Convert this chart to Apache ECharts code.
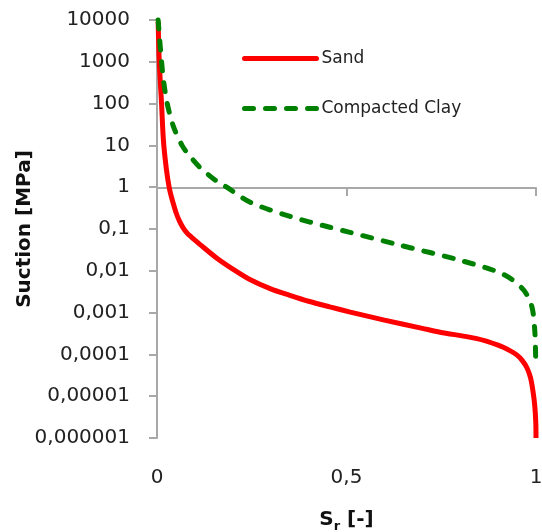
<!DOCTYPE html>
<html>
<head>
<meta charset="utf-8">
<script src="https://cdn.jsdelivr.net/npm/echarts@6/dist/echarts.min.js"></script>
<style>
  html, body { margin: 0; padding: 0; background: #fff; }
  #chart { width: 542px; height: 532px; }
</style>
</head>
<body>
<div id="chart"></div>
<script>
  // data (Sr [-], suction [MPa])
  const sandSr = [0.003, 0.006, 0.012, 0.018, 0.032, 0.05, 0.06, 0.069, 0.08, 0.09, 0.1, 0.113, 0.158, 0.2, 0.245, 0.3, 0.35, 0.4, 0.456, 0.51, 0.6, 0.7, 0.747, 0.844, 0.9, 0.931, 0.95, 0.963, 0.976, 0.9855, 0.992, 0.9968, 0.9995, 1.0]
  const sandSuction = [9000, 1000, 100, 10, 1, 0.25, 0.15, 0.107, 0.079, 0.065, 0.054, 0.043, 0.02, 0.011, 0.0062, 0.0037, 0.0026, 0.00187, 0.00137, 0.00103, 0.00066, 0.00042, 0.00034, 0.000238, 0.000166, 0.000123, 0.000096, 0.000073, 0.000048, 0.0000277, 0.0000132, 0.0000058, 0.00000226, 0.000001]
  const claySr = [0.003, 0.012, 0.018, 0.027, 0.043, 0.066, 0.087, 0.113, 0.157, 0.184, 0.245, 0.351, 0.456, 0.509, 0.632, 0.808, 0.913, 0.966, 0.989, 0.997, 0.999]
  const claySuction = [10000, 1000, 316, 100, 29, 10, 5.5, 3, 1.4, 1, 0.44, 0.2, 0.11, 0.083, 0.043, 0.017, 0.0083, 0.0036, 0.0014, 0.00034, 0.00009]
  const xTickLabels = ['0', '0,5', '1']
  const yTickLabels = ['0,000001', '0,00001', '0,0001', '0,001', '0,01', '0,1', '1', '10', '100', '1000', '10000']

  const font = 'DejaVu Sans'
  const axisGray = '#A8A8A8'

  const chart = echarts.init(document.getElementById('chart'))
  chart.setOption({
    animation: false,
    grid: { left: 157, right: 6, top: 20, bottom: 94, outerBoundsMode: 'none' },
    legend: {
      orient: 'vertical',
      left: 242,
      top: 50,
      padding: 0,
      itemWidth: 72,
      itemHeight: 14,
      itemGap: 33,
      itemStyle: { opacity: 0 },
      lineStyle: { width: 5, cap: 'round' },
      textStyle: { fontFamily: font, fontSize: 17, color: '#222' },
      data: ['Sand', 'Compacted Clay']
    },
    xAxis: [
      {
        // labels + title at the bottom
        type: 'value',
        position: 'bottom',
        min: 0,
        max: 1,
        interval: 0.5,
        axisLine: { show: false, onZero: false },
        axisTick: { show: false },
        splitLine: { show: false },
        axisLabel: {
          margin: 30,
          fontFamily: font,
          fontSize: 20,
          color: '#222',
          formatter: (v) => xTickLabels[Math.round(v * 2)]
        },
        name: '{a|S}{b|r}{a| [-]}',
        nameLocation: 'middle',
        nameGap: 69,
        nameMoveOverlap: false,
        nameTextStyle: {
          rich: {
            a: { fontFamily: font, fontSize: 20, fontWeight: 'bold', color: '#111', lineHeight: 26 },
            b: { fontFamily: font, fontSize: 13, fontWeight: 'bold', color: '#111', lineHeight: 14, verticalAlign: 'bottom' }
          }
        }
      },
      {
        // axis line crossing at suction = 1
        type: 'value',
        position: 'top',
        offset: -168,
        min: 0,
        max: 1,
        interval: 0.5,
        axisLine: { show: true, onZero: false, lineStyle: { color: axisGray, width: 2 } },
        axisTick: { show: true, inside: true, length: 8, lineStyle: { color: axisGray, width: 2 } },
        axisLabel: { show: false },
        splitLine: { show: false }
      }
    ],
    yAxis: {
      type: 'log',
      logBase: 10,
      min: 0.000001,
      max: 10000,
      interval: 1,
      axisLine: { show: true, lineStyle: { color: axisGray, width: 2 } },
      axisTick: { show: true, length: 8, lineStyle: { color: axisGray, width: 2 } },
      minorTick: { show: false },
      splitLine: { show: false },
      axisLabel: {
        margin: 27,
        fontFamily: font,
        fontSize: 20,
        color: '#222',
        formatter: (v) => yTickLabels[Math.round(Math.log10(v)) + 6]
      },
      name: 'Suction [MPa]',
      nameLocation: 'middle',
      nameGap: 122,
      nameMoveOverlap: false,
      nameTextStyle: { fontFamily: font, fontSize: 20, fontWeight: 'bold', color: '#111' }
    },
    series: [
      {
        name: 'Sand',
        type: 'line',
        xAxisIndex: 0,
        symbol: 'none',
        smooth: 0.3,
        clip: false,
        lineStyle: { color: '#FF0000', width: 5 },
        itemStyle: { color: '#FF0000' },
        data: sandSr.map((s, i) => [s, sandSuction[i]])
      },
      {
        name: 'Compacted Clay',
        type: 'line',
        xAxisIndex: 0,
        symbol: 'none',
        smooth: 0.3,
        clip: false,
        lineStyle: { color: '#008000', width: 5, type: [9, 12], cap: 'round' },
        itemStyle: { color: '#008000' },
        data: claySr.map((s, i) => [s, claySuction[i]])
      }
    ]
  })
</script>
</body>
</html>
